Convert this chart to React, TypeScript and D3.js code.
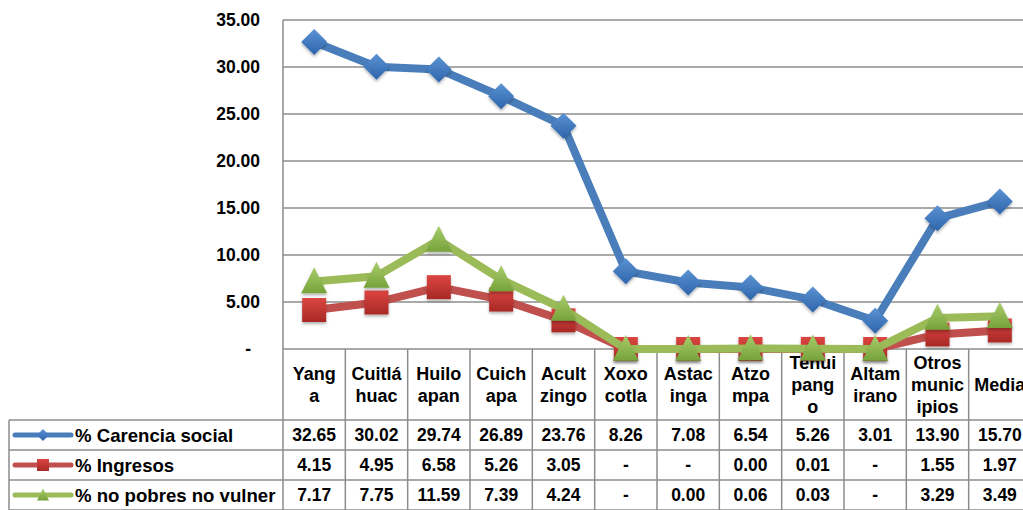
import React from 'react';
import * as d3 from 'd3';

const categories: string[][] = [
  ['Yang', 'a'],
  ['Cuitlá', 'huac'],
  ['Huilo', 'apan'],
  ['Cuich', 'apa'],
  ['Acult', 'zingo'],
  ['Xoxo', 'cotla'],
  ['Astac', 'inga'],
  ['Atzo', 'mpa'],
  ['Tehui', 'pang', 'o'],
  ['Altam', 'irano'],
  ['Otros', 'munic', 'ipios'],
  ['Media'],
];

const carenciaSocial: (number | null)[] = [32.65, 30.02, 29.74, 26.89, 23.76, 8.26, 7.08, 6.54, 5.26, 3.01, 13.9, 15.7];
const ingresos: (number | null)[] = [4.15, 4.95, 6.58, 5.26, 3.05, null, null, 0.0, 0.01, null, 1.55, 1.97];
const noPobres: (number | null)[] = [7.17, 7.75, 11.59, 7.39, 4.24, null, 0.0, 0.06, 0.03, null, 3.29, 3.49];

const seriesNames = ['% Carencia social', '% Ingresos', '% no pobres no vulner'];
const yTicks = [0, 5, 10, 15, 20, 25, 30, 35];

const FONT = '"Liberation Sans", Arial, sans-serif';

type Series = { name: string; values: (number | null)[]; color: string; marker: 'diamond' | 'square' | 'triangle'; grad: string };

const series: Series[] = [
  { name: seriesNames[0], values: carenciaSocial, color: '#4a7ebb', marker: 'diamond', grad: 'gBlue' },
  { name: seriesNames[1], values: ingresos, color: '#c0504d', marker: 'square', grad: 'gRed' },
  { name: seriesNames[2], values: noPobres, color: '#9bbb59', marker: 'triangle', grad: 'gGreen' },
];

function markerPath(type: string, s: number): string {
  if (type === 'diamond') return `M0,${-s}L${s},0L0,${s}L${-s},0Z`;
  if (type === 'square') return `M${-s},${-s}L${s},${-s}L${s},${s}L${-s},${s}Z`;
  return `M0,${-s * 1.1}L${s},${s * 0.9}L${-s},${s * 0.9}Z`;
}

const fmt = (v: number | null) => (v === null ? '-' : v.toFixed(2));

export default function App() {
  const W = 1023;
  const H = 510;
  const ids = categories.map((_, i) => String(i));
  const x = d3.scaleBand<string>().domain(ids).range([283, 1031]).padding(0);
  const y = d3.scaleLinear().domain([0, 35]).range([349, 20]);
  const bw = x.bandwidth();
  const cx = (i: number) => (x(String(i)) as number) + bw / 2;

  const line = d3
    .line<number | null>()
    .x((_, i) => cx(i))
    .y((d) => y(d ?? 0));

  const gridColor = '#8c8c8c';
  const tableTop = 420;
  const rowH = 30;
  const headerTop = y(0);
  const sizes: Record<string, number> = { diamond: 13, square: 12, triangle: 13 };
  const legendSizes: Record<string, number> = { diamond: 6, square: 6, triangle: 6 };

  const boundaries = ids.map((id) => x(id) as number).concat([1031]);

  return (
    <div style={{ position: 'absolute', left: 0, top: 0, width: W, height: H, background: '#fff' }}>
      <svg width={W} height={H} style={{ display: 'block' }} fontFamily={FONT}>
        <defs>
          <linearGradient id="gBlue" x1="0" y1="0" x2="0" y2="1">
            <stop offset="0" stopColor="#5a93d3" />
            <stop offset="1" stopColor="#2e64ab" />
          </linearGradient>
          <linearGradient id="gRed" x1="0" y1="0" x2="0" y2="1">
            <stop offset="0" stopColor="#dc4641" />
            <stop offset="1" stopColor="#a82926" />
          </linearGradient>
          <linearGradient id="gGreen" x1="0" y1="0" x2="0" y2="1">
            <stop offset="0" stopColor="#a9cd6c" />
            <stop offset="1" stopColor="#76a23a" />
          </linearGradient>
          <filter id="shadow" x="-50%" y="-50%" width="200%" height="200%">
            <feDropShadow dx="0" dy="2" stdDeviation="1.5" floodColor="#000" floodOpacity="0.3" />
          </filter>
        </defs>

        {/* gridlines */}
        {yTicks.map((t) => (
          <line key={'g' + t} x1={283} x2={W} y1={y(t)} y2={y(t)} stroke={gridColor} strokeWidth={1.5} />
        ))}
        <line x1={283} x2={283} y1={y(35)} y2={headerTop} stroke={gridColor} strokeWidth={1.5} />

        {/* y tick labels */}
        {yTicks.map((t) => (
          <text
            key={'t' + t}
            x={t === 0 ? 251 : 260}
            y={y(t)}
            dy="0.36em"
            textAnchor="end"
            fontSize={17.5}
            fontWeight="bold"
            fill="#000"
          >
            {t === 0 ? '-' : t.toFixed(2)}
          </text>
        ))}

        {/* category header cells */}
        {boundaries.map((b, i) => (
          <line key={'hb' + i} x1={b} x2={b} y1={headerTop} y2={H} stroke={gridColor} strokeWidth={1.5} />
        ))}
        {categories.map((lines, i) => {
          const n = lines.length;
          const lh = 22;
          const start = 385 - ((n - 1) * lh) / 2;
          return (
            <text key={'c' + i} textAnchor="middle" fontSize={18} fontWeight="bold" fill="#000">
              {lines.map((l, j) => (
                <tspan key={j} x={cx(i)} y={start + j * lh} dy="0.36em">
                  {l}
                </tspan>
              ))}
            </text>
          );
        })}

        {/* data table */}
        {[0, 1, 2, 3].map((r) => (
          <line key={'hr' + r} x1={9} x2={W} y1={tableTop + r * rowH} y2={tableTop + r * rowH} stroke={gridColor} strokeWidth={1.5} />
        ))}
        <line x1={9} x2={9} y1={tableTop} y2={H} stroke={gridColor} strokeWidth={1.5} />
        {series.map((s, r) => {
          const cy = tableTop + r * rowH + rowH / 2;
          return (
            <g key={'row' + r}>
              <line x1={15} x2={71} y1={cy} y2={cy} stroke={s.color} strokeWidth={5} strokeLinecap="round" />
              <path d={markerPath(s.marker, legendSizes[s.marker])} transform={`translate(43,${cy})`} fill={`url(#${s.grad})`} />
              <text x={75} y={cy} dy="0.36em" fontSize={18.6} fontWeight="bold" fill="#000">
                {s.name}
              </text>
              {s.values.map((v, i) => (
                <text key={i} x={cx(i)} y={cy} dy="0.36em" textAnchor="middle" fontSize={17.5} fontWeight="bold" fill="#000">
                  {fmt(v)}
                </text>
              ))}
            </g>
          );
        })}

        {/* series lines and markers */}
        {series.map((s, k) => (
          <g key={'s' + k}>
            <path d={line(s.values) as string} fill="none" stroke={s.color} strokeWidth={8} strokeLinejoin="round" />
            {s.values.map((v, i) => (
              <path
                key={i}
                d={markerPath(s.marker, sizes[s.marker])}
                transform={`translate(${cx(i)},${y(v ?? 0)})`}
                fill={`url(#${s.grad})`}
                filter="url(#shadow)"
              />
            ))}
          </g>
        ))}
      </svg>
    </div>
  );
}
